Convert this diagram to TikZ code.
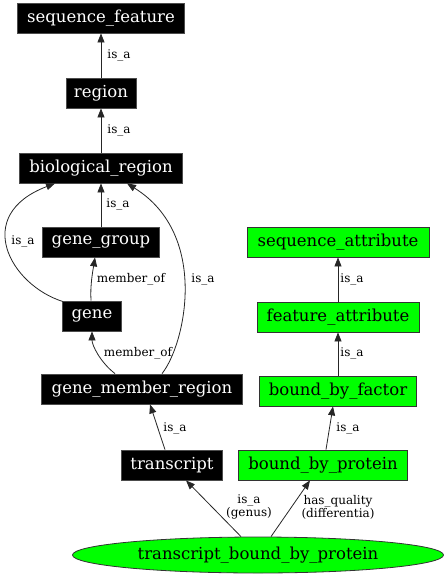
\documentclass[tikz,border=0pt]{standalone}
\usepackage{fontspec}
\setmainfont{DejaVu Serif}
\usetikzlibrary{arrows.meta,shapes.geometric}

\tikzset{
  term/.style={draw=gray!60!black,line width=0.8pt,fill=black,text=white,minimum height=30pt,inner sep=0pt,font=\fontsize{16.5}{18}\selectfont},
  attr/.style={draw=gray!40!black,line width=0.8pt,fill=green,text=black,minimum height=30pt,inner sep=0pt,font=\fontsize{16.5}{18}\selectfont},
  rel/.style={draw=gray!30!black,line width=0.8pt,-{Triangle[length=9pt,width=7pt]}},
  lbl/.style={font=\fontsize{12}{13}\selectfont,inner sep=0pt,align=center}
}

\begin{document}
\begin{tikzpicture}[x=1pt,y=-1pt]
    \useasboundingbox (0,0) rectangle (447,576);

    % Left column (black terms)
    \node[term,minimum width=167pt] (seqfeat) at (101,18) {sequence\_feature};
    \node[term,minimum width=70pt] (region) at (101,93) {region};
    \node[term,minimum width=163pt] (bioreg) at (101,168) {biological\_region};
    \node[term,minimum width=117pt] (genegroup) at (101,242) {gene\_group};
    \node[term,minimum width=59pt] (gene) at (92,316) {gene};
    \node[term,minimum width=201pt] (gmr) at (142,389) {gene\_member\_region};
    \node[term,minimum width=101pt] (transcript) at (172,465) {transcript};

    % Right column (green attributes)
    \node[attr,minimum width=182pt] (seqattr) at (338,242) {sequence\_attribute};
    \node[attr,minimum width=162pt] (featattr) at (338,317) {feature\_attribute};
    \node[attr,minimum width=157pt] (bbf) at (338,391) {bound\_by\_factor};
    \node[attr,minimum width=169pt] (bbp) at (323,465) {bound\_by\_protein};

    % The defined term
    \node[attr,ellipse,minimum width=371pt,minimum height=36pt] (tbbp) at (258,555) {transcript\_bound\_by\_protein};

    % is_a chain on the left
    \draw[rel] (region) -- (seqfeat);
    \draw[rel] (bioreg) -- (region);
    \draw[rel] (genegroup) -- (bioreg);
    \draw[rel] (gene.north west) ++(1,1) .. controls (10,285) and (-28,215) .. ([xshift=-46pt]bioreg.south);
    \draw[rel] (gene.north) ++(-1,0) .. controls (90,285) and (93,270) .. ([xshift=-6pt]genegroup.south);
    \draw[rel] ([xshift=-27pt]gmr.north) .. controls (100,362) and (92,345) .. (gene.south);
    \draw[rel] ([xshift=20pt]gmr.north) .. controls (185,345) and (210,235) .. ([xshift=26pt]bioreg.south);
    \draw[rel] ([xshift=-7pt]transcript.north) -- ([xshift=8pt]gmr.south);

    % is_a chain on the right
    \draw[rel] (featattr) -- (seqattr);
    \draw[rel] (bbf) -- (featattr);
    \draw[rel] ([xshift=3pt]bbp.north) -- ([xshift=-5pt]bbf.south);

    % Genus and differentia
    \draw[rel] ([xshift=-17pt]tbbp.north) -- ([xshift=14pt]transcript.south);
    \draw[rel] ([xshift=13pt]tbbp.north) -- ([xshift=-13pt]bbp.south);

    % Edge labels
    \node[lbl] (l1) at (119,55) {is\_a};
    \node[lbl] (l2) at (119,130) {is\_a};
    \node[lbl] (l3) at (118,204) {is\_a};
    \node[lbl] (l4) at (23,241) {is\_a};
    \node[lbl] (l5) at (131,279) {member\_of};
    \node[lbl] (l6) at (138,353) {member\_of};
    \node[lbl] (l7) at (203,279) {is\_a};
    \node[lbl] (l8) at (175,428) {is\_a};
    \node[lbl] (l9) at (352,279) {is\_a};
    \node[lbl] (l10) at (352,353) {is\_a};
    \node[lbl] (l11) at (348,428) {is\_a};
    \node[lbl] (l12) at (249,507) {is\_a\\(genus)};
    \node[lbl] (l13) at (338,507) {has\_quality\\(differentia)};
\end{tikzpicture}
\end{document}
